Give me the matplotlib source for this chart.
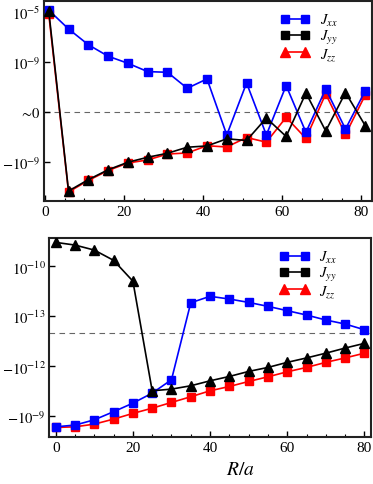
import matplotlib
matplotlib.use("Agg")
import matplotlib.pyplot as plt
from matplotlib.lines import Line2D
from matplotlib.ticker import MultipleLocator, NullLocator

plt.rcParams["font.family"] = "serif"
plt.rcParams["font.serif"] = ["Liberation Serif", "DejaVu Serif"]
plt.rcParams["mathtext.fontset"] = "stix"

# top panel: R/a = 1, 6, ..., 81
r_top = [1, 6, 11, 16, 21, 26, 31, 36, 41, 46, 51, 56, 61, 66, 71, 76, 81]
jxx_top = [1.4e-5, 4.4e-7, 2.4e-8, 2.9e-9, 7.9e-10, 1.7e-10, 1.5e-10, 7.9e-12, 4.4e-11,
           -6.9e-12, 2.1e-11, -6.9e-12, 1.3e-11, -4.2e-12, 6.9e-12, -2.3e-12, 5.0e-12]
jyy_top = [1.2e-5, -2.1e-7, -2.6e-8, -4.2e-9, -1.05e-9, -4.2e-10, -2.0e-10, -6.6e-11, -5.2e-11,
           -1.4e-11, -1.9e-11, -2.7e-13, -9.1e-12, 3.3e-12, -3.3e-12, 3.6e-12, -1.24e-12]
jzz_top = [6.9e-6, -2.5e-7, -3.0e-8, -4.8e-9, -1.2e-9, -6.9e-10, -2.3e-10, -1.9e-10, -5.0e-11,
           -6.3e-11, -1.1e-11, -2.6e-11, -2.3e-13, -1.3e-11, 2.8e-12, -6.3e-12, 2.3e-12]

# bottom panel: R/a = 0, 5, ..., 80
r_bot = [0, 5, 10, 15, 20, 25, 30, 35, 40, 45, 50, 55, 60, 65, 70, 75, 80]
jxx_bot = [-4.2e-9, -3.3e-9, -1.6e-9, -5.2e-10, -1.6e-10, -4.0e-11, -6.3e-12, 6.6e-13, 1.6e-12,
           1.1e-12, 6.9e-13, 4.0e-13, 2.2e-13, 1.2e-13, 5.9e-14, 3.2e-14, 9.5e-15]
jyy_bot = [2.75e-9, 1.9e-9, 9.5e-10, 2.3e-10, 1.3e-11, -2.9e-11, -2.3e-11, -1.45e-11, -7.3e-12,
           -4.0e-12, -2.0e-12, -1.15e-12, -5.7e-13, -3.1e-13, -1.6e-13, -7.8e-14, -3.9e-14]
jzz_bot = [-4.6e-9, -4.2e-9, -2.9e-9, -1.45e-9, -6.6e-10, -3.2e-10, -1.45e-10, -6.6e-11, -2.9e-11,
           -1.6e-11, -8.0e-12, -4.2e-12, -2.1e-12, -1.15e-12, -5.7e-13, -3.1e-13, -1.6e-13]

top_ticks = [1e-5, 1e-9, 0, -1e-9]
top_labels = [r"$10^{-5}$", r"$10^{-9}$", r"$\sim\!0$", r"$-10^{-9}$"]
bot_ticks = [1e-10, 1e-13, -1e-12, -1e-9]
bot_labels = [r"$10^{-10}$", r"$10^{-13}$", r"$-10^{-12}$", r"$-10^{-9}$"]
legend_labels = [r"$J_{xx}$", r"$J_{yy}$", r"$J_{zz}$"]

W, H = 373, 485
fig = plt.figure(figsize=(W / 100, H / 100), dpi=100)


def px_axes(left, top, right, bottom):
    return fig.add_axes([left / W, 1 - bottom / H, (right - left) / W, (bottom - top) / H])


ax1 = px_axes(44, 1.5, 372, 202)
ax2 = px_axes(49.3, 238.5, 371, 437.5)


def draw(ax, r, jxx, jyy, jzz, lw_scale, ylim, xlim, ticks, labels):
    ax.set_yscale("asinh", linear_width=lw_scale)
    ax.axhline(0, color="#666666", lw=0.8, ls=(0, (5, 4)), zorder=1)
    ax.plot(r, jzz, color="red", marker="s", ms=6.3, lw=1.2, zorder=2)
    ax.plot(r, jxx, color="blue", marker="s", ms=6.3, lw=1.2, zorder=3)
    ax.plot(r, jyy, color="black", marker="^", ms=7, lw=1.2, zorder=4)
    ax.set_ylim(*ylim)
    ax.set_xlim(*xlim)
    ax.set_yticks(ticks)
    ax.set_yticklabels(labels)
    ax.yaxis.set_minor_locator(NullLocator())
    ax.xaxis.set_major_locator(MultipleLocator(20))
    ax.xaxis.set_minor_locator(MultipleLocator(5))
    ax.tick_params(direction="in", labelsize=11, width=1.0, length=4, pad=3)
    ax.tick_params(axis="y", pad=2.5, labelsize=10.5)
    ax.tick_params(which="minor", direction="in", width=0.8, length=2.5)
    for s in ax.spines.values():
        s.set_linewidth(1.5)
        s.set_color("#222222")
    # legend markers differ from the plotted ones, as in the original figure
    handles = [
        Line2D([], [], color="blue", marker="s", ms=6.3, lw=1.2),
        Line2D([], [], color="black", marker="s", ms=6.3, lw=1.2),
        Line2D([], [], color="red", marker="^", ms=7, lw=1.2),
    ]
    ax.legend(handles, legend_labels, loc="upper right", bbox_to_anchor=(0.935, 1.01),
              frameon=False, fontsize=10.5, handlelength=2.0, labelspacing=0.0,
              handletextpad=0.7, numpoints=2)


draw(ax1, r_top, jxx_top, jyy_top, jzz_top, 2e-13, (-1.32e-6, 8.3e-5), (-0.2, 82.7),
     top_ticks, top_labels)
draw(ax2, r_bot, jxx_bot, jyy_bot, jzz_bot, 2e-14, (-1.6e-8, 5.4e-9), (-1.66, 81.7),
     bot_ticks, bot_labels)

ax2.set_xlabel(r"$R/a$", fontsize=14, va="center")
ax2.xaxis.set_label_coords(0.593, -0.167)

fig.savefig("out.png", dpi=100)
